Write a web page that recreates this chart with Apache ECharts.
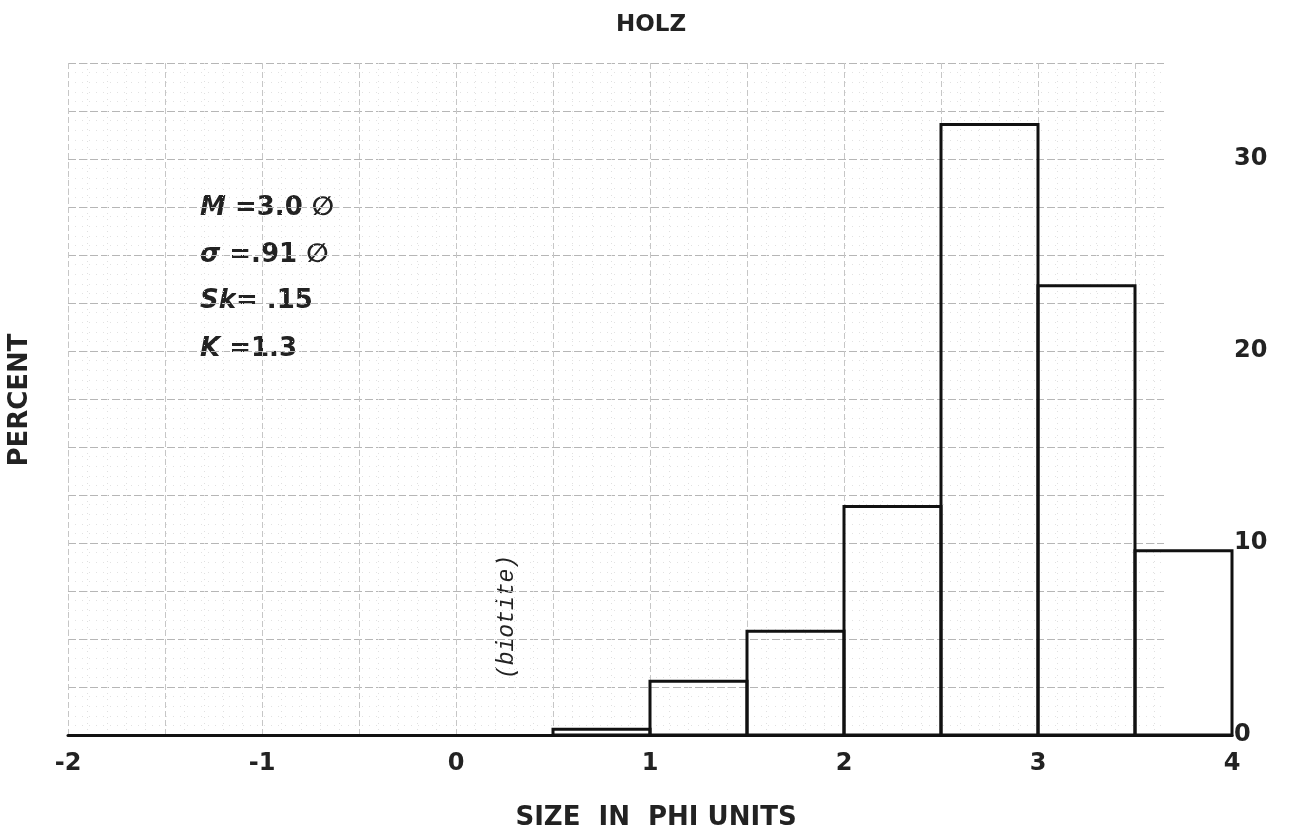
<!DOCTYPE html>
<html>
<head>
<meta charset="utf-8">
<script src="https://cdn.jsdelivr.net/npm/echarts@6/dist/echarts.min.js"></script>
<style>
  html, body { margin: 0; padding: 0; background: #fff; }
  #chart { width: 1298px; height: 835px; }
</style>
</head>
<body>
<div id="chart"></div>
<script>
// histogram bins (phi) and percent per bin
var binLeft = [0.5, 1, 1.5, 2, 2.5, 3, 3.5];
var binRight = [1, 1.5, 2, 2.5, 3, 3.5, 4];
var percent = [0.3, 2.8, 5.4, 11.9, 31.8, 23.4, 9.6];

var xTicks = [-2, -1, 0, 1, 2, 3, 4];
var yTicks = [0, 10, 20, 30];
var stats = [
  ["M", " =3.0 \u2205"],
  ["\u03c3", " =.91 \u2205"],
  ["Sk", "= .15"],
  ["K", " =1.3"]
];

var chart = echarts.init(document.getElementById("chart"));

var histData = binLeft.map(function (v, i) {
  return [v, binRight[i], percent[i]];
});

var font = "'DejaVu Sans', 'Liberation Sans', sans-serif";

// statistics block, one line each
var statY = [208, 255, 301, 349];
var statGraphics = stats.map(function (s, i) {
  return {
    type: "text",
    x: 200,
    y: statY[i],
    style: {
      text: "{i|" + s[0] + "}" + s[1],
      font: "bold 26px " + font,
      fill: "#222",
      verticalAlign: "middle",
      rich: {
        i: { fontStyle: "italic", fontWeight: "bold", fontSize: 26, fontFamily: "DejaVu Sans" }
      }
    }
  };
});

var option = {
  backgroundColor: "#fff",
  animation: false,
  title: {
    text: "HOLZ",
    left: 646,
    top: 9,
    textAlign: "center",
    textStyle: { fontFamily: font, fontSize: 23, fontWeight: "bold", color: "#222" }
  },
  graphic: statGraphics.concat([
    {
      type: "text",
      x: 507,
      y: 617,
      rotation: Math.PI / 2,
      style: {
        text: "(biotite)",
        font: "italic 23px 'Liberation Mono', 'DejaVu Sans Mono', monospace",
        fill: "#222",
        align: "center",
        verticalAlign: "middle"
      }
    },
    {
      type: "text",
      x: 20,
      y: 400,
      rotation: Math.PI / 2,
      style: {
        text: "PERCENT",
        font: "bold 26px " + font,
        fill: "#222",
        align: "center",
        verticalAlign: "middle"
      }
    },
    {
      type: "text",
      x: 656,
      y: 818,
      style: {
        text: "SIZE  IN  PHI UNITS",
        font: "bold 26px " + font,
        fill: "#222",
        align: "center",
        verticalAlign: "middle"
      }
    }
  ]),
  grid: [
    // graph paper
    { left: 68, right: 134, top: 63, bottom: 100 },
    // plot
    { left: 68, right: 66, top: 63, bottom: 100 }
  ],
  xAxis: [
    {
      gridIndex: 0,
      type: "value",
      min: -2,
      max: 3.65,
      interval: 0.5,
      axisLine: { show: false },
      axisTick: { show: false },
      axisLabel: { show: false },
      splitLine: { show: true, showMaxLine: false, lineStyle: { color: "#c6c6c6", width: 1, type: [6, 3] } },
      minorTick: { show: false, splitNumber: 5 },
      minorSplitLine: { show: true, lineStyle: { color: "#e0e0e0", width: 1, type: [1, 5] } }
    },
    {
      gridIndex: 1,
      type: "value",
      min: -2,
      max: 4,
      interval: 1,
      axisLine: { show: true, onZero: false, lineStyle: { color: "#111", width: 3 } },
      axisTick: { show: false },
      splitLine: { show: false },
      axisLabel: {
        margin: 17,
        fontFamily: font,
        fontSize: 24,
        fontWeight: "bold",
        color: "#222",
        formatter: function (v) {
          return xTicks.indexOf(v) >= 0 ? String(v) : "";
        }
      }
    }
  ],
  yAxis: [
    {
      gridIndex: 0,
      type: "value",
      min: 0,
      max: 35,
      interval: 2.5,
      axisLine: { show: false },
      axisTick: { show: false },
      axisLabel: { show: false },
      splitLine: { show: true, lineStyle: { color: "#b6b6b6", width: 1, type: [8, 3] } },
      minorTick: { show: false, splitNumber: 5 },
      minorSplitLine: { show: true, lineStyle: { color: "#e2e2e2", width: 1, type: [1, 6] } }
    },
    {
      gridIndex: 1,
      type: "value",
      position: "right",
      min: 0,
      max: 35,
      interval: 10,
      axisLine: { show: false },
      axisTick: { show: false },
      splitLine: { show: false },
      axisLabel: {
        showMaxLabel: false,
        margin: 2,
        fontFamily: font,
        fontSize: 24,
        fontWeight: "bold",
        color: "#222",
        formatter: function (v) {
          return yTicks.indexOf(v) >= 0 ? String(v) : "";
        }
      }
    }
  ],
  series: [
    {
      type: "custom",
      xAxisIndex: 1,
      yAxisIndex: 1,
      data: histData,
      encode: { x: [0, 1], y: 2 },
      renderItem: function (params, api) {
        var p0 = api.coord([api.value(0), api.value(2)]);
        var p1 = api.coord([api.value(1), 0]);
        return {
          type: "rect",
          shape: { x: p0[0], y: p0[1], width: p1[0] - p0[0], height: p1[1] - p0[1] },
          style: { fill: "none", stroke: "#111", lineWidth: 3 }
        };
      }
    }
  ]
};

chart.setOption(option);
window.addEventListener("resize", chart.resize);
</script>
</body>
</html>
